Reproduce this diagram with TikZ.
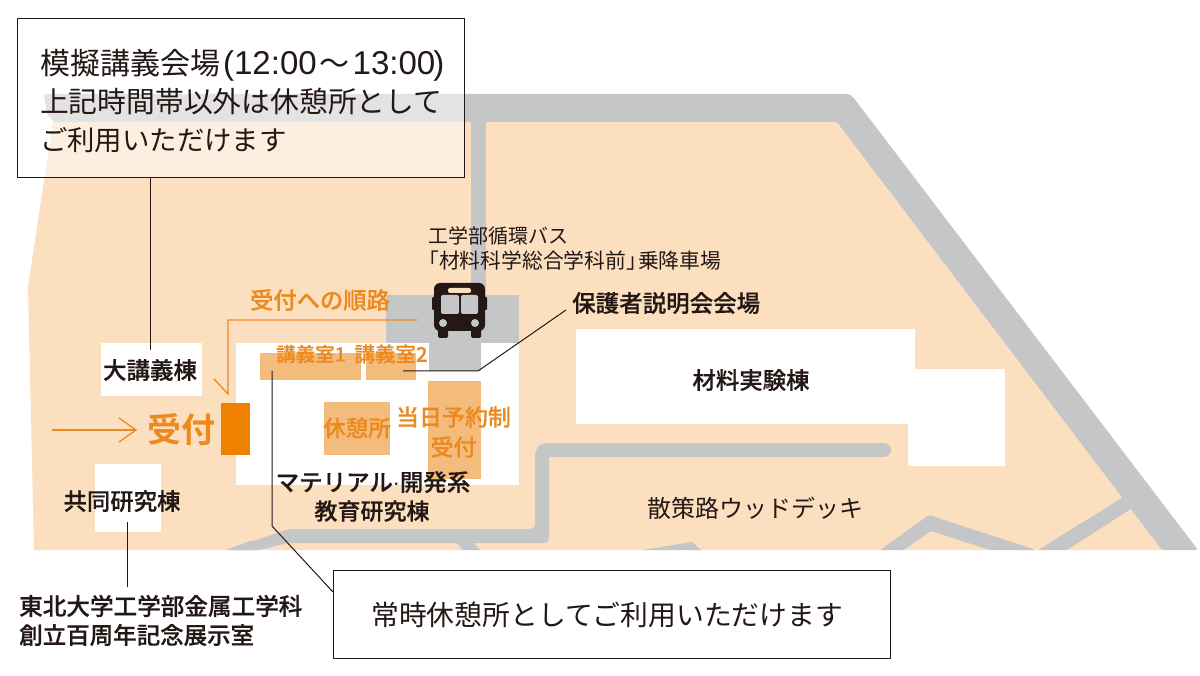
\documentclass[tikz,border=0pt]{standalone}
\usepackage{fontspec}
\newfontfamily\jp{Noto Sans CJK JP}
\newfontfamily\jpm[FakeBold=0.5]{Noto Sans CJK JP Medium}
\newfontfamily\jpb{Noto Sans CJK JP Bold}
\newfontfamily\lat{Liberation Sans}
\definecolor{ground}{HTML}{FBDFBF}
\definecolor{road}{HTML}{C5C6C8}
\definecolor{recep}{HTML}{EE8100}
\definecolor{room}{HTML}{F4BC7C}
\definecolor{otext}{HTML}{EC8A20}
\definecolor{ink}{HTML}{231815}
\tikzset{
  x=1pt,y=-1pt,
  lbl/.style={font=\jp\fontsize{#1}{#1}\selectfont,text=ink,inner sep=0pt,text height=0.88*#1pt,text depth=0.12*#1pt},
  mlbl/.style={font=\jpm\fontsize{#1}{#1}\selectfont,text=ink,inner sep=0pt,text height=0.88*#1pt,text depth=0.12*#1pt},
  olbl/.style={font=\jpm\fontsize{#1}{#1}\selectfont,text=otext,inner sep=0pt,text height=0.88*#1pt,text depth=0.12*#1pt},
  bigolbl/.style={font=\jpb\fontsize{#1}{#1}\selectfont,text=otext,inner sep=0pt,text height=0.88*#1pt,text depth=0.12*#1pt},
  roadfill/.style={fill=road,draw=none,rounded corners=2pt},
  bldg/.style={fill=white,draw=none},
  roomfill/.style={fill=room,draw=none},
  leader/.style={draw=ink,line width=1pt},
  route/.style={draw=otext,line width=1.3pt},
  callout/.style={draw=ink,line width=1.3pt,inner sep=0pt,align=left},
}
\begin{document}
\begin{tikzpicture}
\useasboundingbox (0,0) rectangle (1200,676);
% ground
\fill[ground] (54,115) -- (28,287) -- (34,550) -- (1175,550) -- (840,105) -- cycle;
% roads
\path[roadfill] (44,94) -- (849,94) -- (853,97) -- (1198,550) -- (1162,550) -- (837,122) -- (54,122) -- (47,114) -- cycle;
\fill[road] (471,120) rectangle (486,296);
\path[roadfill] (1122,498) -- (1135,490) -- (1140,503) -- (1067,550) -- (1038,550) -- cycle;
\path[roadfill] (880,550) -- (929,515) -- (1036,550) -- (990,550) -- (931,531) -- (904,550) -- cycle;
\fill[road] (642,550) -- (692,542) -- (701,550) -- cycle;
\path[fill=road,rounded corners=5pt] (226,550) -- (289,529) -- (535,529) -- (535,450) -- (549,450) -- (549,543) -- (287,543) -- (260,550) -- cycle;
\fill[road] (226,550) -- (250,541) -- (270,541) -- (260,550) -- cycle;
\fill[road] (455,541) -- (471,541) -- (480,550) -- (463,550) -- cycle;
\draw[road,line width=14pt,line cap=round,rounded corners=5pt] (542,470) -- (542,450) -- (884,450);
% buildings
\fill[bldg] (101,343) rectangle (202,396);
\fill[bldg] (236,343) rectangle (519,485);
\fill[bldg] (95,464) rectangle (161,532);
\fill[bldg] (576,329) rectangle (915,424);
\fill[bldg] (908,369) rectangle (1005,466);
% bus stop area
\fill[road] (386,295) rectangle (519,343);
\fill[road] (429,343) rectangle (481,371);
% rooms
\fill[roomfill] (260,353) rectangle (361,380);
\fill[roomfill] (366,353) rectangle (416,380);
\fill[roomfill] (324,402) rectangle (390,455);
\fill[roomfill] (428,381) rectangle (481,479);
\fill[recep] (221,403) rectangle (250,455);
% bus icon
\fill[ink,rounded corners=6pt] (434,283) rectangle (485,331);
\fill[ink,rounded corners=1pt] (432,297) rectangle (487,310);
\fill[ink,rounded corners=1.5pt] (438,326) rectangle (448,338);
\fill[ink,rounded corners=1.5pt] (471,326) rectangle (481,338);
\fill[road,rounded corners=2pt] (441,295) rectangle (459,314);
\fill[road,rounded corners=2pt] (461,295) rectangle (478,314);
\fill[ground,rounded corners=2pt] (448,288) rectangle (471,293);
\fill[road] (443,323) circle[radius=4];
\fill[road] (475,323) circle[radius=4];
% callouts
\node[callout,fill=white,fill opacity=.52,text opacity=1,anchor=north west,minimum width=447pt,minimum height=159pt,text width=424pt,
  font=\jp\fontsize{28.8}{38}\selectfont,text=ink] (boxA) at (17,18)
  {\rule{0pt}{32pt}\hskip 11pt {\fontsize{30}{38}\selectfont 模擬講義会場}\hskip 3pt{\lat\fontsize{33}{38}\selectfont(12:00}\hskip 3pt{\fontsize{30}{38}\selectfont〜}\hskip 3pt{\lat\fontsize{33}{38}\selectfont 13:00\hskip -2pt)}\\\hskip 11pt 上記時間帯以外は休憩所として\\\hskip 11pt {\fontsize{27.4}{38}\selectfont ご利用いただけます}};
\node[callout,fill=white,anchor=north west,minimum width=557pt,minimum height=88pt,text=ink,font=\jp\fontsize{27.8}{32}\selectfont] (boxB) at (333,570)
  {常時休憩所としてご利用いただけます\hspace*{10pt}};
% leaders
\coordinate (aEnd) at (150.5,350);
\coordinate (aStart) at (150.5,177);
\draw[leader] (aStart) -- (aEnd);
\coordinate (jA) at (127.5,522);
\coordinate (jB) at (127.5,587);
\draw[leader] (jA) -- (jB);
\coordinate (bA) at (333,592);
\coordinate (bB) at (272,526);
\coordinate (bC) at (272,371);
\draw[leader] (bA) -- (bB) -- (bC);
\coordinate (hA) at (566,310);
\coordinate (hB) at (478,371);
\coordinate (hC) at (403,371);
\draw[leader] (hA) -- (hB) -- (hC);
% routes
\coordinate (rA) at (417,320);
\coordinate (rB) at (228,320);
\coordinate (rC) at (228,394);
\coordinate (rD) at (214,379);
\draw[route,line join=miter] (rA) -- (rB) -- (rC) -- (rD);
\coordinate (uA) at (52,430);
\coordinate (uB) at (136,430);
\coordinate (uC) at (119,418);
\coordinate (uD) at (119,442);
\draw[route] (uA) -- (uB);
\draw[route] (uC) -- (uB) -- (uD);
% labels
\node[lbl=20,anchor=west] (busA) at (428,236) {工学部循環バス};
\node[lbl=20.8,anchor=west] (busB) at (418,261) {「材料科学総合学科前」\hskip-9pt 乗降車場};
\node[mlbl=23.5,anchor=west] (hogo) at (572,303) {保護者説明会会場};
\node[olbl=23.3,anchor=center] (junro) at (320,300) {受付への順路};
\node[olbl=19.5,anchor=center] (r1) at (311,354) {講義室1};
\node[olbl=20.5,anchor=center] (r2) at (391,354) {講義室2};
\node[mlbl=23.5,anchor=center] (dai) at (150,370) {大講義棟};
\node[bigolbl=34,anchor=center] (uke) at (181,430) {受付};
\node[olbl=22.5,anchor=center] (kyu) at (357,428) {休憩所};
\node[olbl=23,anchor=center] (toA) at (453.5,417) {当日予約制};
\node[olbl=23,anchor=center] (toB) at (453.5,447) {受付};
\node[mlbl=23.5,anchor=center] (matA) at (373,482) {マテリアル$\cdot$開発系};
\node[mlbl=23,anchor=center] (matB) at (372,511) {教育研究棟};
\node[mlbl=23.4,anchor=center] (kyo) at (122,501) {共同研究棟};
\node[mlbl=23.6,anchor=west] (toh) at (19,606) {東北大学工学部金属工学科};
\node[mlbl=23.5,anchor=west] (sou) at (19,635) {創立百周年記念展示室};
\node[mlbl=23.4,anchor=center] (zai) at (751,380) {材料実験棟};
\node[lbl=24,anchor=center] (san) at (755,508) {散策路ウッドデッキ};
\end{tikzpicture}
\end{document}
